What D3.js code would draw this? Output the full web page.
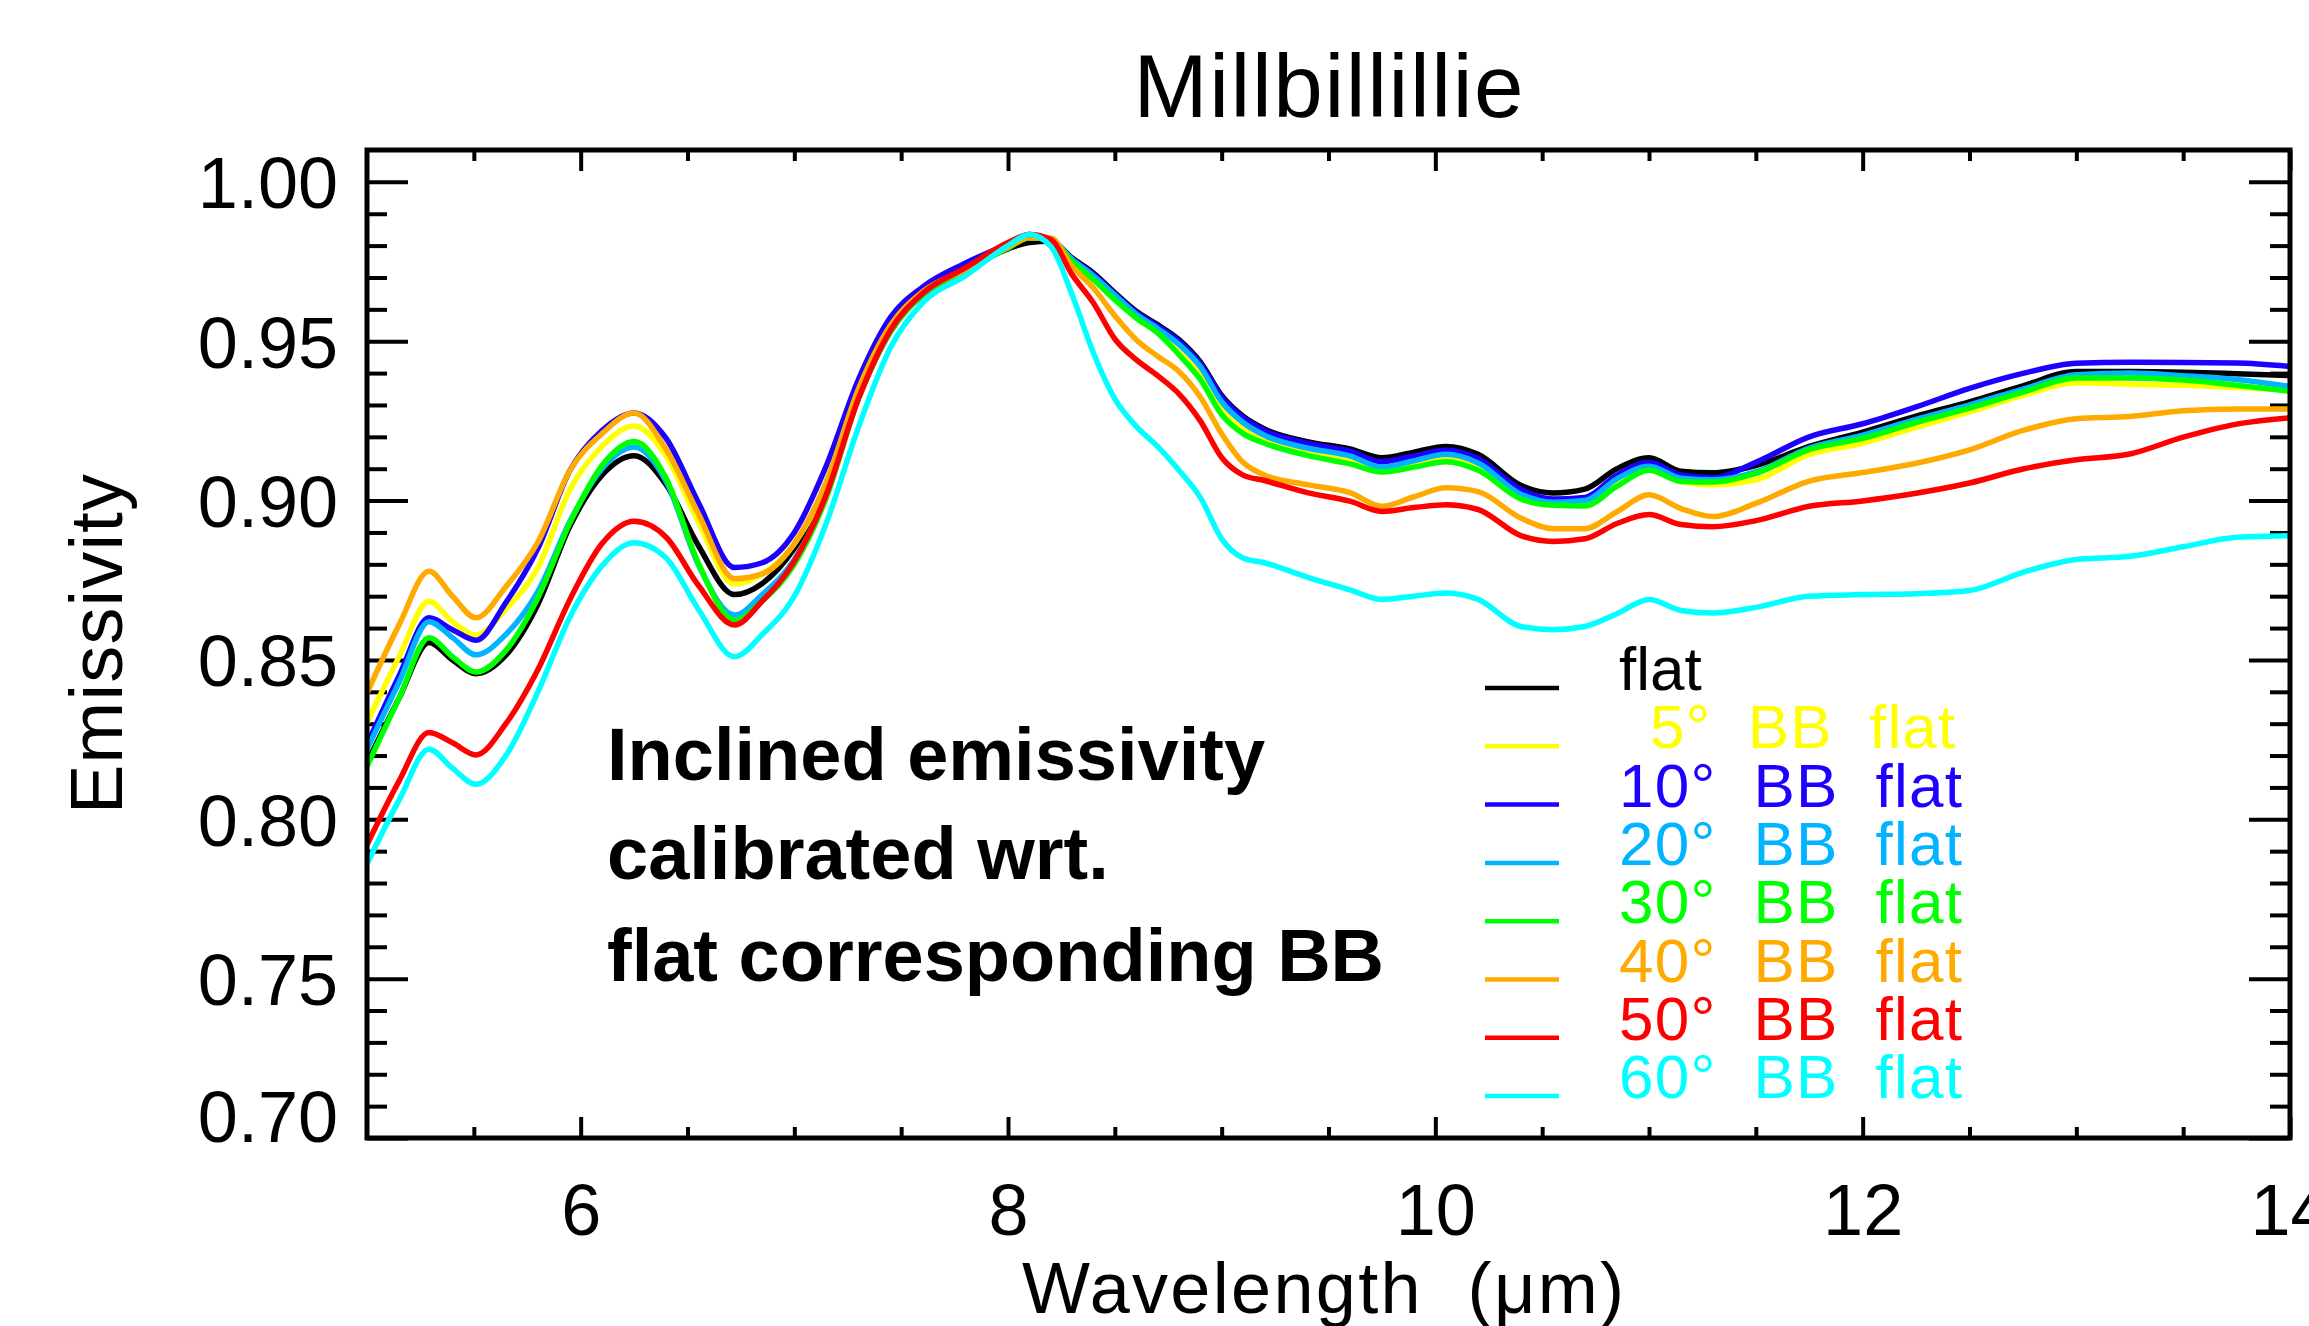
<!DOCTYPE html>
<html>
<head>
<meta charset="utf-8">
<script src="https://cdn.jsdelivr.net/npm/d3@7"></script>
<style>
  body { margin: 0; background: #fff; }
  svg text { font-family: 'Liberation Sans', Arial, sans-serif; }
</style>
</head>
<body>
<svg id="canvas" width="2309" height="1326"></svg>
<script>
// wavelength in micron
let wavelength = [5.0, 5.15, 5.29, 5.4, 5.51, 5.65, 5.8, 5.95, 6.1, 6.25,
  6.4, 6.55, 6.72, 6.85, 7.0, 7.15, 7.3, 7.45, 7.6, 7.8,
  8.0, 8.1, 8.2, 8.3, 8.4, 8.5, 8.6, 8.7, 8.8, 8.9,
  9.0, 9.1, 9.2, 9.4, 9.6, 9.75, 9.9, 10.05, 10.2, 10.4,
  10.55, 10.7, 10.85, 11.0, 11.15, 11.3, 11.5, 11.75, 12.0, 12.25,
  12.5, 12.75, 13.0, 13.25, 13.5, 13.75, 14.0]

let flat = [0.8177, 0.838, 0.8555, 0.850, 0.8457, 0.8515, 0.8675, 0.892, 0.908, 0.9141,
  0.905, 0.886, 0.8705, 0.874, 0.885, 0.903, 0.932, 0.953, 0.9645, 0.9723,
  0.979, 0.981, 0.9814, 0.9761, 0.9714, 0.9652, 0.9594, 0.9552, 0.9505, 0.9435,
  0.933, 0.9265, 0.9225, 0.9185, 0.9162, 0.9134, 0.9152, 0.917, 0.9145, 0.9048,
  0.9024, 0.9036, 0.910, 0.9134, 0.9092, 0.9087, 0.911, 0.917, 0.9215, 0.9265,
  0.931, 0.936, 0.9405, 0.9405, 0.9403, 0.9398, 0.9392]

let bb5 = [0.8302, 0.851, 0.8684, 0.862, 0.8578, 0.866, 0.879, 0.9035, 0.917, 0.9234,
  0.914, 0.8935, 0.8738, 0.877, 0.8865, 0.905, 0.935, 0.9545, 0.9652, 0.9725,
  0.9795, 0.9825, 0.9818, 0.9755, 0.970, 0.964, 0.958, 0.9535, 0.948, 0.940,
  0.9295, 0.923, 0.919, 0.9152, 0.9125, 0.9098, 0.9112, 0.913, 0.9105, 0.901,
  0.899, 0.899, 0.905, 0.910, 0.906, 0.905, 0.9065, 0.9145, 0.918, 0.923,
  0.9278, 0.933, 0.937, 0.9365, 0.9362, 0.9355, 0.9348]

let bb10 = [0.8235, 0.845, 0.8632, 0.8595, 0.8562, 0.868, 0.885, 0.9095, 0.922, 0.9275,
  0.9195, 0.8995, 0.879, 0.8805, 0.890, 0.911, 0.938, 0.9575, 0.967, 0.9745,
  0.9805, 0.9835, 0.9815, 0.9758, 0.971, 0.9648, 0.959, 0.9548, 0.950, 0.943,
  0.9325, 0.926, 0.922, 0.918, 0.9155, 0.9122, 0.914, 0.9158, 0.9132, 0.9035,
  0.9005, 0.901, 0.908, 0.912, 0.908, 0.9072, 0.912, 0.920, 0.9241, 0.9294,
  0.9352, 0.9399, 0.9431, 0.9434, 0.9433, 0.9432, 0.9421]

let bb20 = [0.822, 0.843, 0.862, 0.857, 0.8516, 0.858, 0.8715, 0.8935, 0.910, 0.9168,
  0.906, 0.880, 0.8641, 0.8705, 0.8815, 0.902, 0.933, 0.9535, 0.965, 0.9725,
  0.9795, 0.9825, 0.9818, 0.9757, 0.9705, 0.9645, 0.9585, 0.954, 0.949, 0.942,
  0.931, 0.9245, 0.9205, 0.9165, 0.914, 0.9105, 0.9125, 0.9145, 0.9118, 0.902,
  0.8995, 0.900, 0.9068, 0.9108, 0.907, 0.9065, 0.909, 0.9165, 0.9205, 0.9255,
  0.930, 0.935, 0.9395, 0.940, 0.9392, 0.938, 0.9358]

let bb30 = [0.8166, 0.838, 0.857, 0.851, 0.8462, 0.853, 0.8695, 0.893, 0.911, 0.9185,
  0.907, 0.8805, 0.8625, 0.8685, 0.880, 0.901, 0.932, 0.953, 0.9645, 0.9722,
  0.9792, 0.9825, 0.9818, 0.975, 0.9693, 0.963, 0.9573, 0.9526, 0.9458, 0.938,
  0.927, 0.921, 0.918, 0.9142, 0.9115, 0.909, 0.9105, 0.9122, 0.9095, 0.9005,
  0.8985, 0.8983, 0.9045, 0.9095, 0.906, 0.9058, 0.9085, 0.916, 0.9195, 0.9245,
  0.929, 0.934, 0.9385, 0.9385, 0.9378, 0.9362, 0.9343]

let bb40 = [0.8396, 0.861, 0.8778, 0.870, 0.8632, 0.873, 0.887, 0.9095, 0.921, 0.9275,
  0.916, 0.896, 0.8755, 0.877, 0.8865, 0.906, 0.935, 0.955, 0.9655, 0.9725,
  0.9795, 0.9825, 0.9824, 0.9735, 0.9667, 0.958, 0.9505, 0.9453, 0.9405, 0.9325,
  0.921, 0.912, 0.908, 0.905, 0.9025, 0.8982, 0.9012, 0.904, 0.9028, 0.8945,
  0.8912, 0.8912, 0.8965, 0.9018, 0.8975, 0.895, 0.8991, 0.9061, 0.9088, 0.9117,
  0.9159, 0.922, 0.9257, 0.9264, 0.9282, 0.9287, 0.9287]

let bb50 = [0.792, 0.812, 0.8272, 0.824, 0.8202, 0.830, 0.847, 0.869, 0.8865, 0.8935,
  0.8885, 0.8735, 0.861, 0.8685, 0.881, 0.902, 0.932, 0.9535, 0.965, 0.973,
  0.981, 0.9835, 0.9819, 0.9709, 0.962, 0.9507, 0.9442, 0.9392, 0.9335, 0.925,
  0.9135, 0.908, 0.9063, 0.9025, 0.8998, 0.8966, 0.8978, 0.8987, 0.8972, 0.889,
  0.8872, 0.888, 0.8928, 0.8956, 0.8925, 0.8918, 0.8937, 0.8982, 0.8999, 0.9023,
  0.9055, 0.9099, 0.9128, 0.9146, 0.9199, 0.924, 0.926]

let bb60 = [0.786, 0.806, 0.822, 0.816, 0.811, 0.820, 0.840, 0.8635, 0.8795, 0.8868,
  0.882, 0.866, 0.851, 0.858, 0.870, 0.893, 0.923, 0.948, 0.962, 0.9705,
  0.980, 0.9835, 0.9798, 0.9646, 0.9463, 0.9319, 0.9233, 0.917, 0.9095, 0.901,
  0.888, 0.882, 0.8805, 0.876, 0.872, 0.869, 0.870, 0.871, 0.869, 0.8605,
  0.8595, 0.8605, 0.8645, 0.869, 0.8655, 0.8647, 0.8665, 0.870, 0.8705, 0.8708,
  0.8718, 0.8775, 0.8815, 0.8825, 0.8855, 0.8885, 0.889]

let seriesColors = ['#000000', '#ffff00', '#1e00ff', '#00b4ff', '#00ff00', '#ffaa00', '#ff0000', '#00ffff']
let legendLabels = ['flat', '5°  BB  flat', '10°  BB  flat', '20°  BB  flat', '30°  BB  flat',
  '40°  BB  flat', '50°  BB  flat', '60°  BB  flat']
let noteLines = ['Inclined emissivity', 'calibrated wrt.', 'flat corresponding BB']

let xTicks = [6, 8, 10, 12, 14]
let xMinorTicks = [5.5, 6.5, 7, 7.5, 8.5, 9, 9.5, 10.5, 11, 11.5, 12.5, 13, 13.5]
let yTicks = [0.70, 0.75, 0.80, 0.85, 0.90, 0.95, 1.00]
let yMinorTicks = d3.range(71, 101).filter(v => v % 5 != 0).map(v => v / 100)

let allSeries = [flat, bb5, bb10, bb20, bb30, bb40, bb50, bb60]

let plot = {left: 367, right: 2290, top: 150, bottom: 1138}

let canvas = d3.select('#canvas')

canvas.append('rect')
      .attr('width', 2309)
      .attr('height', 1326)
      .attr('fill', '#fff')

let xScale = d3.scaleLinear().domain([5, 14]).range([plot.left, plot.right])
let yScale = d3.scaleLinear().domain([0.70, 1.01]).range([plot.bottom, plot.top])

// ---- axes, IDL look: box with inward ticks on every side
let drawAxis = (axis, x, y) => {
  let g = canvas.append('g')
                .attr('transform', 'translate(' + x + ',' + y + ')')
                .call(axis)
  g.select('.domain').remove()
  g.selectAll('line').attr('stroke', '#000').attr('stroke-width', 4)
  g.selectAll('text')
   .attr('fill', '#000')
   .style('font-family', "'Liberation Sans', Arial, sans-serif")
   .style('font-size', '72px')
  return g
}

drawAxis(d3.axisBottom(xScale).tickValues(xTicks).tickSize(-21).tickPadding(46).tickFormat(d3.format('d')), 0, plot.bottom)
drawAxis(d3.axisBottom(xScale).tickValues(xMinorTicks).tickSize(-11).tickFormat(''), 0, plot.bottom)
drawAxis(d3.axisTop(xScale).tickValues(xTicks).tickSize(-21).tickFormat(''), 0, plot.top)
drawAxis(d3.axisTop(xScale).tickValues(xMinorTicks).tickSize(-11).tickFormat(''), 0, plot.top)

let yLeft = drawAxis(d3.axisLeft(yScale).tickValues(yTicks).tickSize(-41).tickPadding(29).tickFormat(d3.format('.2f')), plot.left, 0)
// labels sit centred on the tick, except the bottom one which is lifted off the x axis
yLeft.selectAll('text').attr('dy', d => d == 0.70 ? 3 : 26)
drawAxis(d3.axisLeft(yScale).tickValues(yMinorTicks).tickSize(-20).tickFormat(''), plot.left, 0)
drawAxis(d3.axisRight(yScale).tickValues(yTicks).tickSize(-41).tickFormat(''), plot.right, 0)
drawAxis(d3.axisRight(yScale).tickValues(yMinorTicks).tickSize(-20).tickFormat(''), plot.right, 0)

// ---- the spectra
let line = d3.line()
             .x((d, i) => xScale(wavelength[i]))
             .y(d => yScale(d))
             .curve(d3.curveMonotoneX)

canvas.append('g')
      .selectAll('path')
      .data(allSeries)
      .enter()
      .append('path')
      .attr('d', line)
      .attr('fill', 'none')
      .attr('stroke', (d, i) => seriesColors[i])
      .attr('stroke-width', 5.5)
      .attr('stroke-linejoin', 'round')

// frame on top of the curves
canvas.append('rect')
      .attr('x', plot.left)
      .attr('y', plot.top)
      .attr('width', plot.right - plot.left)
      .attr('height', plot.bottom - plot.top)
      .attr('fill', 'none')
      .attr('stroke', '#000')
      .attr('stroke-width', 5)

// ---- legend
let legend = canvas.append('g')

legend.selectAll('line')
      .data(legendLabels)
      .enter()
      .append('line')
      .attr('x1', 1485)
      .attr('x2', 1559)
      .attr('y1', (d, i) => 688 + i * 58.3)
      .attr('y2', (d, i) => 688 + i * 58.3)
      .attr('stroke', (d, i) => seriesColors[i])
      .attr('stroke-width', 4.5)

legend.selectAll('text')
      .data(legendLabels)
      .enter()
      .append('text')
      .attr('xml:space', 'preserve')
      .style('white-space', 'pre')
      .attr('x', d => /^\d°/.test(d) ? 1650 : 1619)
      .attr('y', (d, i) => 690 + i * 58.3)
      .attr('textLength', d => d == 'flat' ? null : (/^\d°/.test(d) ? 305 : 343))
      .attr('lengthAdjust', 'spacing')
      .attr('fill', (d, i) => seriesColors[i])
      .style('font-size', '62px')
      .text(d => d)

// ---- titles
canvas.append('text')
      .attr('x', (plot.left + plot.right) / 2)
      .attr('y', 117)
      .attr('text-anchor', 'middle')
      .attr('textLength', 390)
      .attr('lengthAdjust', 'spacing')
      .style('font-size', '89px')
      .text('Millbillillie')

canvas.append('text')
      .attr('xml:space', 'preserve')
      .style('white-space', 'pre')
      .attr('x', 1323)
      .attr('y', 1313)
      .attr('text-anchor', 'middle')
      .attr('textLength', 602)
      .attr('lengthAdjust', 'spacing')
      .style('font-size', '72px')
      .text('Wavelength  (μm)')

canvas.append('text')
      .attr('transform', 'translate(122,644) rotate(-90)')
      .attr('text-anchor', 'middle')
      .attr('textLength', 340)
      .attr('lengthAdjust', 'spacing')
      .style('font-size', '74px')
      .text('Emissivity')

// bold note inside the plot
canvas.append('g')
      .selectAll('text')
      .data(noteLines)
      .enter()
      .append('text')
      .attr('x', 607)
      .attr('y', (d, i) => [780, 879, 981][i])
      .style('font-size', '74px')
      .style('font-weight', 'bold')
      .text(d => d)
</script>
</body>
</html>
